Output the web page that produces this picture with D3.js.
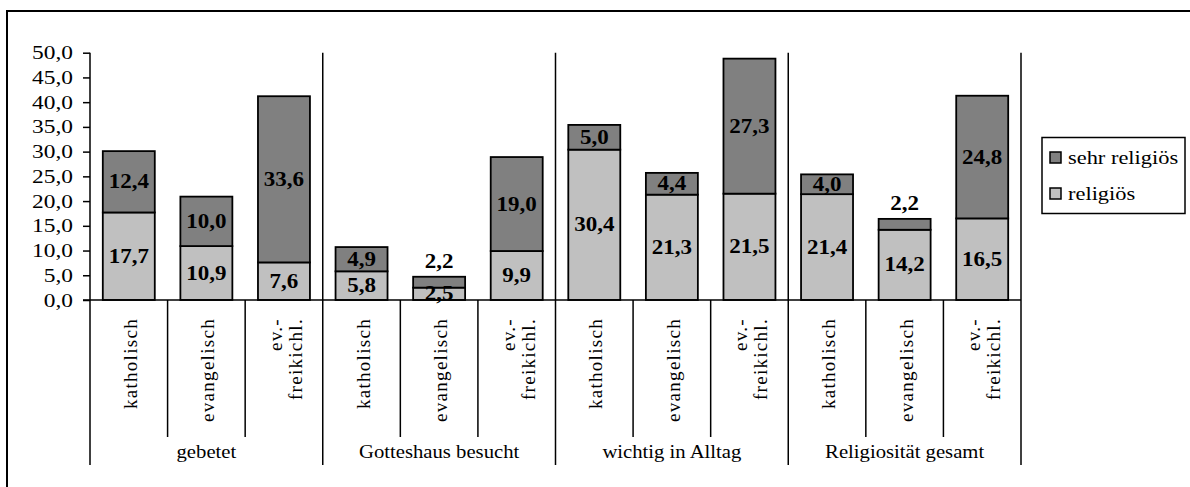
<!DOCTYPE html>
<html>
<head>
<meta charset="utf-8">
<script src="https://cdn.jsdelivr.net/npm/d3@7"></script>
<style>
  body { margin: 0; background: #fff; }
  svg { display: block; }
  text { font-family: "Liberation Serif", "Times New Roman", serif; fill: #000; }
</style>
</head>
<body>
<div id="chart"></div>
<script>
// Werte je Balken (Gruppe x Konfession)
var groups = ['gebetet', 'Gotteshaus besucht', 'wichtig in Alltag', 'Religiosität gesamt'];
var confessions = [['katholisch'], ['evangelisch'], ['ev.-', 'freikichl.']];
var religioes = [17.7, 10.9, 7.6, 5.8, 2.5, 9.9, 30.4, 21.3, 21.5, 21.4, 14.2, 16.5];
var sehrReligioes = [12.4, 10.0, 33.6, 4.9, 2.2, 19.0, 5.0, 4.4, 27.3, 4.0, 2.2, 24.8];
var yTicks = [0, 5, 10, 15, 20, 25, 30, 35, 40, 45, 50];
var legendItems = ['sehr religiös', 'religiös'];

var W = 1190, H = 487;
var plot = { left: 90, right: 1021, top: 52.7, bottom: 300 };
var colors = { sehr: '#808080', rel: '#c0c0c0' };
var de = d3.formatLocale({ decimal: ',', thousands: '.', grouping: [3], currency: ['', ' €'] });
var fmt = de.format('.1f');

var svg = d3.select('#chart').append('svg')
  .attr('width', W)
  .attr('height', H);

// Rahmen (rechts und unten abgeschnitten)
svg.append('rect')
  .attr('x', 7).attr('y', 11)
  .attr('width', W + 20).attr('height', H + 20)
  .attr('fill', 'none').attr('stroke', '#000').attr('stroke-width', 2);

var bars = d3.range(religioes.length).map(function(i) {
  return { i: i, rel: religioes[i], sehr: sehrReligioes[i] };
});

var x = d3.scaleBand()
  .domain(bars.map(function(d) { return d.i; }))
  .range([plot.left, plot.right])
  .paddingInner(0.33)
  .paddingOuter(0.165);

var y = d3.scaleLinear()
  .domain([0, 50])
  .range([plot.bottom, plot.top]);

var slot = (plot.right - plot.left) / bars.length;

// stretched text helper
var stretched = function(sel, px, py, sx) {
  return sel.attr('transform', 'translate(' + px + ',' + py + ') scale(' + sx + ',1)');
};

// y axis
var yAxis = svg.append('g')
  .attr('transform', 'translate(' + plot.left + ',0)')
  .call(d3.axisLeft(y).tickValues(yTicks).tickSizeInner(7).tickSizeOuter(0).tickFormat(function() { return ''; }));
yAxis.select('.domain').remove();
yAxis.selectAll('line').attr('stroke', '#000').attr('stroke-width', 1.5);

yTicks.forEach(function(t) {
  stretched(svg.append('text'), 73, y(t) + 6.5, 1.23)
    .attr('text-anchor', 'end')
    .style('font-size', '19px')
    .text(fmt(t));
});

// bars
bars.forEach(function(d) {
  svg.append('rect')
    .attr('x', x(d.i)).attr('y', y(d.rel))
    .attr('width', x.bandwidth()).attr('height', y(0) - y(d.rel))
    .attr('fill', colors.rel).attr('stroke', '#000').attr('stroke-width', 1.8);
  svg.append('rect')
    .attr('x', x(d.i)).attr('y', y(d.rel + d.sehr))
    .attr('width', x.bandwidth()).attr('height', y(d.rel) - y(d.rel + d.sehr))
    .attr('fill', colors.sehr).attr('stroke', '#000').attr('stroke-width', 1.8);
});

// value labels
bars.forEach(function(d) {
  var cx = x(d.i) + x.bandwidth() / 2;
  stretched(svg.append('text'), cx, (y(0) + y(d.rel)) / 2 + 6.5, 1.15)
    .attr('text-anchor', 'middle')
    .style('font-size', '20px').style('font-weight', 'bold')
    .text(fmt(d.rel));
  var segH = y(d.rel) - y(d.rel + d.sehr);
  var ly = segH < 14 ? y(d.rel + d.sehr) - 9 : (y(d.rel) + y(d.rel + d.sehr)) / 2 + 6.5;
  stretched(svg.append('text'), cx, ly, 1.15)
    .attr('text-anchor', 'middle')
    .style('font-size', '20px').style('font-weight', 'bold')
    .text(fmt(d.sehr));
});

// x axis line
svg.append('line')
  .attr('x1', plot.left - 7).attr('x2', plot.right)
  .attr('y1', plot.bottom).attr('y2', plot.bottom)
  .attr('stroke', '#000').attr('stroke-width', 1.5);

// separators
d3.range(bars.length + 1).forEach(function(k) {
  var sx = plot.left + k * slot;
  var major = k % 3 === 0;
  svg.append('line')
    .attr('x1', sx).attr('x2', sx)
    .attr('y1', major ? plot.top : plot.bottom)
    .attr('y2', major ? 465 : 437)
    .attr('stroke', '#000').attr('stroke-width', 1.5);
});

// confession labels (rotated)
bars.forEach(function(d) {
  var lines = confessions[d.i % 3];
  var cx = x(d.i) + x.bandwidth() / 2;
  var lh = 20;
  lines.forEach(function(l, j) {
    var off = (j - (lines.length - 1) / 2) * lh + 8;
    svg.append('text')
      .attr('transform', 'translate(' + (cx + off) + ',318) rotate(-90)')
      .attr('text-anchor', 'end')
      .style('font-size', '19px').style('letter-spacing', '1.3px')
      .text(l);
  });
});

// group labels
groups.forEach(function(g, k) {
  var cx = plot.left + (k * 3 + 1.5) * slot;
  stretched(svg.append('text'), cx, 458, 1.15)
    .attr('text-anchor', 'middle')
    .style('font-size', '18px')
    .text(g);
});

// legend
var lg = svg.append('g');
lg.append('rect')
  .attr('x', 1042).attr('y', 137.5).attr('width', 143).attr('height', 76)
  .attr('fill', '#fff').attr('stroke', '#000').attr('stroke-width', 1.5);
legendItems.forEach(function(name, k) {
  var ry = 152 + k * 36;
  lg.append('rect')
    .attr('x', 1050).attr('y', ry).attr('width', 11).attr('height', 11)
    .attr('fill', k === 0 ? colors.sehr : colors.rel)
    .attr('stroke', '#000').attr('stroke-width', 1.5);
  stretched(lg.append('text'), 1068, ry + 12, 1.18)
    .style('font-size', '19px')
    .text(name);
});
</script>
</body>
</html>
